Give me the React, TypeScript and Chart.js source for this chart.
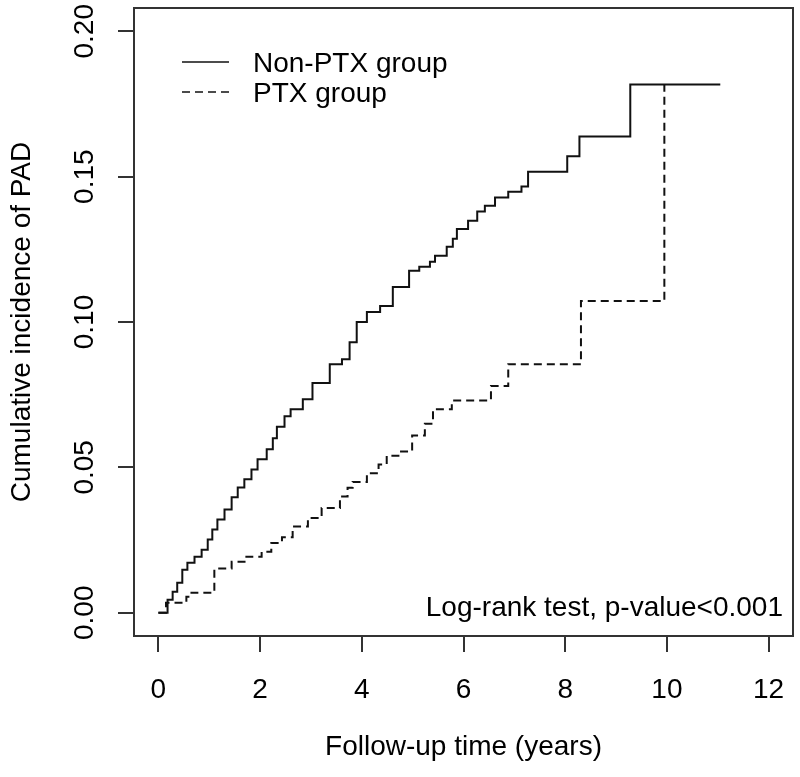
import React, { useEffect, useRef } from "react";
import { Chart, registerables } from "chart.js";

Chart.register(...registerables);

// cumulative incidence (step at each time)
const nonPtxTime = [0, 0.18, 0.28, 0.37, 0.47, 0.57, 0.71, 0.85, 0.97, 1.06, 1.16, 1.3, 1.44, 1.56, 1.69, 1.83, 1.95, 2.13, 2.25, 2.33, 2.48, 2.6, 2.84, 3.03, 3.37, 3.61, 3.76, 3.9, 4.1, 4.36, 4.61, 4.93, 5.13, 5.34, 5.44, 5.67, 5.79, 5.87, 6.09, 6.27, 6.42, 6.62, 6.88, 7.14, 7.27, 8.04, 8.28, 9.28, 11.05];
const nonPtxCum = [0, 0.0045, 0.0072, 0.0103, 0.0148, 0.0172, 0.0193, 0.0217, 0.0252, 0.0286, 0.0321, 0.0355, 0.0397, 0.0431, 0.0459, 0.0493, 0.0528, 0.0562, 0.06, 0.064, 0.0676, 0.07, 0.0734, 0.079, 0.0855, 0.0872, 0.093, 0.1, 0.1034, 0.1055, 0.112, 0.1176, 0.119, 0.1207, 0.1228, 0.1259, 0.1286, 0.132, 0.1348, 0.138, 0.14, 0.1428, 0.1448, 0.1466, 0.1517, 0.157, 0.1638, 0.1817, 0.1817];

const ptxTime = [0, 0.15, 0.55, 0.65, 1.1, 1.44, 1.73, 2.03, 2.22, 2.43, 2.64, 2.94, 3.21, 3.57, 3.72, 3.82, 4.1, 4.33, 4.49, 4.75, 4.99, 5.24, 5.4, 5.77, 6.54, 6.88, 8.31, 9.95];
const ptxCum = [0, 0.0034, 0.0055, 0.0069, 0.0152, 0.0175, 0.0193, 0.021, 0.024, 0.026, 0.0297, 0.0326, 0.036, 0.04, 0.043, 0.045, 0.048, 0.051, 0.054, 0.0555, 0.061, 0.065, 0.07, 0.073, 0.078, 0.0855, 0.1072, 0.1817];

const xTicks = [0, 2, 4, 6, 8, 10, 12];
const yTicks = [0, 0.05, 0.1, 0.15, 0.2];

const groupNames = ["Non-PTX group", "PTX group"];
const testText = "Log-rank test, p-value<0.001";

const family = '"Liberation Sans", Arial, sans-serif';
const font = { family, size: 28 };

const toPoints = (t: number[], v: number[]) => t.map((x, i) => ({ x, y: v[i] }));

const extras = {
  id: "extras",
  afterDraw(chart: any) {
    const { ctx, chartArea: a, scales } = chart;
    ctx.save();
    // box
    ctx.strokeStyle = "#333";
    ctx.lineWidth = 2;
    ctx.setLineDash([]);
    ctx.strokeRect(a.left, a.top, a.right - a.left, a.bottom - a.top);

    ctx.font = `28px ${family}`;
    ctx.fillStyle = "#000";

    // y tick labels, turned like R's default
    ctx.textAlign = "center";
    ctx.textBaseline = "middle";
    scales.y.ticks.forEach((t: any) => {
      const y = scales.y.getPixelForValue(t.value);
      ctx.save();
      ctx.translate(a.left - 49, y);
      ctx.rotate(-Math.PI / 2);
      ctx.fillText(t.value.toFixed(2), 0, 0);
      ctx.restore();
    });

    // legend
    chart.data.datasets.forEach((ds: any, i: number) => {
      const y = a.top + 54 + i * 30;
      ctx.strokeStyle = ds.borderColor;
      ctx.lineWidth = 1.6;
      ctx.setLineDash(ds.borderDash || []);
      ctx.beginPath();
      ctx.moveTo(a.left + 48, y);
      ctx.lineTo(a.left + 95, y);
      ctx.stroke();
      ctx.setLineDash([]);
      ctx.textAlign = "left";
      ctx.fillText(ds.label, a.left + 119, y + 2);
    });

    // test result
    ctx.textAlign = "right";
    ctx.fillText(testText, a.right - 10, a.bottom - 28);
    ctx.restore();
  },
};

const App = () => {
  const chartRef = useRef<HTMLCanvasElement | null>(null);

  useEffect(() => {
    if (!chartRef.current) return;

    const chart = new Chart(chartRef.current, {
      type: "line",
      data: {
        datasets: [
          {
            label: groupNames[0],
            data: toPoints(nonPtxTime, nonPtxCum),
            borderColor: "#111",
            borderWidth: 2,
            stepped: "before",
            pointRadius: 0,
            fill: false,
          },
          {
            label: groupNames[1],
            data: toPoints(ptxTime, ptxCum),
            borderColor: "#111",
            borderWidth: 2,
            borderDash: [8, 5],
            stepped: "before",
            pointRadius: 0,
            fill: false,
          },
        ],
      },
      options: {
        responsive: false,
        animation: false,
        layout: { padding: { left: 0, top: 8, right: 7, bottom: 0 } },
        plugins: {
          legend: { display: false },
          tooltip: { enabled: false },
        },
        scales: {
          x: {
            type: "linear",
            min: -0.48,
            max: 12.48,
            afterBuildTicks: (s: any) => {
              s.ticks = xTicks.map((v) => ({ value: v }));
            },
            afterFit: (s: any) => {
              s.height = 141;
              s.paddingLeft = 0;
              s.paddingRight = 0;
            },
            border: { display: false },
            grid: { drawOnChartArea: false, drawTicks: true, tickLength: 16, color: "#333", lineWidth: 2 },
            ticks: { font, color: "#000", padding: 21, maxRotation: 0, callback: (v: any) => String(v) },
            title: { display: true, text: "Follow-up time (years)", font, color: "#000", padding: { top: 0, bottom: 13 } },
          },
          y: {
            type: "linear",
            min: -0.008,
            max: 0.208,
            afterBuildTicks: (s: any) => {
              s.ticks = yTicks.map((v) => ({ value: v }));
            },
            afterFit: (s: any) => {
              s.width = 134;
              s.paddingTop = 0;
              s.paddingBottom = 0;
            },
            border: { display: false },
            grid: { drawOnChartArea: false, drawTicks: true, tickLength: 16, color: "#333", lineWidth: 2 },
            ticks: { display: false },
            title: { display: true, text: "Cumulative incidence of PAD", font, color: "#000", padding: { top: 5, bottom: 0 } },
          },
        },
      },
      plugins: [extras],
    });

    return () => {
      chart.destroy();
    };
  }, []);

  return (
    <div style={{ position: "absolute", left: 0, top: 0, width: 800, height: 777, background: "#fff" }}>
      <canvas ref={chartRef} width={800} height={777}></canvas>
    </div>
  );
};

export default App;
